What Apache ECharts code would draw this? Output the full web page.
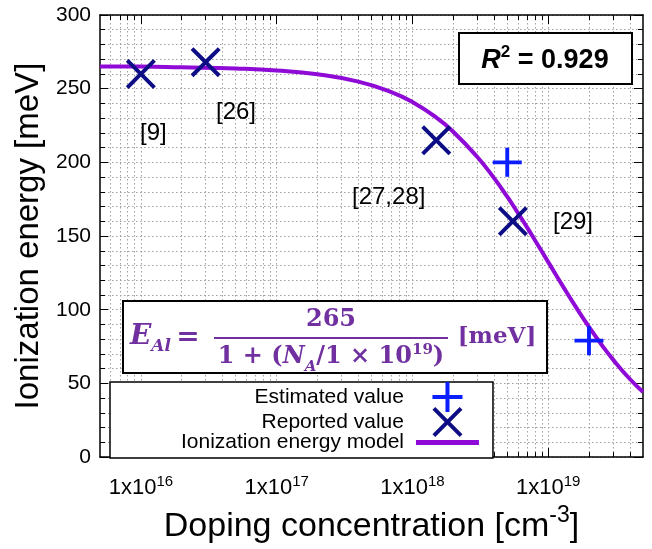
<!DOCTYPE html>
<html>
<head>
<meta charset="utf-8">
<script src="https://cdn.jsdelivr.net/npm/echarts@6/dist/echarts.min.js"></script>
<style>html,body{margin:0;padding:0;background:#fff}#c{width:652px;height:549px}</style>
</head>
<body>
<div id="c"></div>
<script>
// ---- data ----
const curveN = [5e15, 1e16, 2e16, 5e16, 1e17, 2e17, 4e17, 7e17, 1e18, 1.5e18, 2e18, 3e18, 4e18, 5e18, 6e18, 7e18, 8e18, 1e19, 1.3e19, 1.6e19, 2e19, 2.5e19, 3e19, 4e19, 5e19];
const curveE = [265, 265, 264.5, 263.7, 262.4, 259.8, 254.8, 247.7, 240.9, 230.4, 220.8, 203.8, 189.3, 176.7, 165.6, 155.9, 147.2, 132.5, 115.2, 101.9, 88.3, 75.7, 66.3, 53, 44.2];
const reportedN = [1e16, 3e16, 1.5e18, 5.5e18];
const reportedE = [260, 268, 215, 160];
const estimatedN = [5e18, 2e19];
const estimatedE = [200, 79];
const refLabels = ['[9]', '[26]', '[27,28]', '[29]'];
const seriesNames = ['Estimated value', 'Reported value', 'Ionization energy model'];
const xMajorTicks = [1e16, 1e17, 1e18, 1e19];
const xMin = 5e15, xMax = 5e19;
const yMin = 0, yMax = 300, yStep = 50;

const xMinorTicks = [];
for (let d = 15; d <= 19; d++) {
  for (let k = 2; k <= 9; k++) {
    const v = k * Math.pow(10, d);
    if (v > xMin && v < xMax) xMinorTicks.push(v);
  }
}

const FONT = 'Liberation Sans, Arial, sans-serif';
const SERIF = 'DejaVu Serif, serif';
const PURPLE_TXT = '#7030A0';
const CURVE = '#8F0AD6';
const NAVY = '#0D0D85';
const BLUE = '#0A1EFF';
const GRIDLINE = { show: true, lineStyle: { color: '#a0a0a0', type: [1.5, 2.5], width: 1 } };

const PLUS = 'path://M13,0L17,0L17,13L30,13L30,17L17,17L17,30L13,30L13,17L0,17L0,13L13,13Z';
const CROSS = 'path://M0,2.8L2.8,0L15,12.2L27.2,0L30,2.8L17.8,15L30,27.2L27.2,30L15,17.8L2.8,30L0,27.2L12.2,15Z';
const LINEICON = 'path://M0,0L63,0L63,5L0,5Z';

function xAxisBase(pos) {
  return {
    type: 'log', logBase: 10, min: xMin, max: xMax, position: pos, gridIndex: 0,
    axisLine: { show: false, onZero: false },
    axisLabel: { show: false }, splitLine: { show: false },
    axisTick: { show: false }
  };
}

const xAxes = [
  Object.assign(xAxisBase('bottom'), {
    axisLine: { show: true, onZero: false, lineStyle: { color: '#000', width: 1.5 } },
    axisTick: { show: true, inside: true, length: 9, customValues: xMajorTicks, lineStyle: { color: '#000', width: 1 } },
    axisLabel: {
      show: true, customValues: xMajorTicks, margin: 17, color: '#000',
      formatter: function (v) { return '{b|1x10}{s|' + Math.round(Math.log10(v)) + '}'; },
      rich: {
        b: { fontSize: 22, fontFamily: FONT, color: '#000', lineHeight: 25, verticalAlign: 'bottom' },
        s: { fontSize: 15, fontFamily: FONT, color: '#000', lineHeight: 15, verticalAlign: 'top' }
      }
    },
    splitLine: GRIDLINE,
    name: '{m|Doping concentration [cm}{s|-3}{m|]}',
    nameLocation: 'middle', nameGap: 40,
    nameTextStyle: {
      rich: {
        m: { fontSize: 34, fontFamily: FONT, color: '#000', lineHeight: 40, verticalAlign: 'bottom' },
        s: { fontSize: 23, fontFamily: FONT, color: '#000', lineHeight: 23, verticalAlign: 'top' }
      }
    }
  }),
  Object.assign(xAxisBase('bottom'), {
    axisTick: { show: true, inside: true, length: 5, customValues: xMinorTicks, lineStyle: { color: '#000', width: 1 } },
    splitLine: GRIDLINE
  }),
  Object.assign(xAxisBase('top'), {
    axisLine: { show: true, onZero: false, lineStyle: { color: '#000', width: 1.5 } },
    axisTick: { show: true, inside: true, length: 9, customValues: xMajorTicks, lineStyle: { color: '#000', width: 1 } }
  }),
  Object.assign(xAxisBase('top'), {
    axisTick: { show: true, inside: true, length: 5, customValues: xMinorTicks, lineStyle: { color: '#000', width: 1 } }
  })
];

const yAxes = [
  {
    type: 'value', min: yMin, max: yMax, interval: yStep, position: 'left',
    axisLine: { show: true, onZero: false, lineStyle: { color: '#000', width: 1.5 } },
    axisTick: { show: true, inside: true, length: 8, lineStyle: { color: '#000', width: 1 } },
    minorTick: { show: true, splitNumber: 5, length: 5, lineStyle: { color: '#000', width: 1 } },
    axisLabel: { fontSize: 21, fontFamily: FONT, color: '#000', margin: 9 },
    splitLine: GRIDLINE,
    minorSplitLine: GRIDLINE,
    name: 'Ionization energy [meV]', nameLocation: 'middle', nameGap: 48, nameRotate: 90,
    nameTextStyle: { fontSize: 33, fontFamily: FONT, color: '#000' }
  },
  {
    type: 'value', min: yMin, max: yMax, interval: yStep, position: 'right',
    axisLine: { show: true, onZero: false, lineStyle: { color: '#000', width: 1.5 } },
    axisTick: { show: true, inside: true, length: 9, lineStyle: { color: '#000', width: 1 } },
    minorTick: { show: true, splitNumber: 5, length: 5, lineStyle: { color: '#000', width: 1 } },
    axisLabel: { show: false }, splitLine: { show: false }
  }
];

const option = {
  animation: false,
  backgroundColor: '#fff',
  grid: { left: 100, right: 9, top: 15, bottom: 82 },
  xAxis: xAxes,
  yAxis: yAxes,
  legend: {
    orient: 'vertical', align: 'right', left: 110, top: 382,
    itemWidth: 63, itemHeight: 30, itemGap: -5,
    padding: [0, 14, 5, 71],
    backgroundColor: '#fff', borderColor: '#000', borderWidth: 1.5,
    textStyle: { fontSize: 21, fontFamily: FONT, color: '#000', padding: [0, 7, 0, 0] },
    data: [
      { name: seriesNames[0], icon: PLUS },
      { name: seriesNames[1], icon: CROSS },
      { name: seriesNames[2], icon: LINEICON }
    ]
  },
  series: [
    {
      name: seriesNames[2], type: 'line', xAxisIndex: 0, yAxisIndex: 0,
      data: curveN.map((n, i) => [n, curveE[i]]),
      symbol: 'none', smooth: true, z: 3,
      lineStyle: { color: CURVE, width: 4 }, itemStyle: { color: CURVE }
    },
    {
      name: seriesNames[1], type: 'scatter', xAxisIndex: 0, yAxisIndex: 0,
      data: reportedN.map((n, i) => [n, reportedE[i]]),
      symbol: CROSS, symbolSize: 30, z: 4,
      itemStyle: { color: NAVY, opacity: 1 }
    },
    {
      name: seriesNames[0], type: 'scatter', xAxisIndex: 0, yAxisIndex: 0,
      data: estimatedN.map((n, i) => [n, estimatedE[i]]),
      symbol: PLUS, symbolSize: 29, z: 4,
      itemStyle: { color: BLUE, opacity: 1 }
    }
  ],
  graphic: [
    // reference labels
    { type: 'text', left: 140, top: 121, z: 10, style: { text: refLabels[0], fontSize: 24, fontFamily: FONT, fill: '#000' } },
    { type: 'text', left: 216, top: 100, z: 10, style: { text: refLabels[1], fontSize: 24, fontFamily: FONT, fill: '#000' } },
    { type: 'text', left: 352, top: 185, z: 10, style: { text: refLabels[2], fontSize: 24, fontFamily: FONT, fill: '#000' } },
    { type: 'text', left: 553, top: 210, z: 10, style: { text: refLabels[3], fontSize: 24, fontFamily: FONT, fill: '#000' } },
    // R^2 box
    { type: 'rect', z: 10, shape: { x: 459, y: 33, width: 173, height: 51 }, style: { fill: '#fff', stroke: '#000', lineWidth: 2 } },
    {
      type: 'text', z: 11, x: 545, y: 59,
      style: {
        text: '{r|R}{s|2}{b| = 0.929}', align: 'center', verticalAlign: 'middle',
        rich: {
          r: { fontSize: 27, fontWeight: 'bold', fontStyle: 'italic', fontFamily: FONT, fill: '#000', lineHeight: 30, verticalAlign: 'bottom' },
          s: { fontSize: 17, fontWeight: 'bold', fontFamily: FONT, fill: '#000', lineHeight: 17, verticalAlign: 'top' },
          b: { fontSize: 27, fontWeight: 'bold', fontFamily: FONT, fill: '#000', lineHeight: 30, verticalAlign: 'bottom' }
        }
      }
    },
    // Equation box
    { type: 'rect', z: 10, shape: { x: 123, y: 301, width: 424, height: 72 }, style: { fill: '#fff', stroke: '#000', lineWidth: 2 } },
    {
      type: 'text', z: 11, x: 130, y: 338,
      style: {
        text: '{e|E}{sub|Al}', align: 'left', verticalAlign: 'middle',
        rich: {
          e: { fontSize: 28, fontWeight: 'bold', fontStyle: 'italic', fontFamily: SERIF, fill: PURPLE_TXT, lineHeight: 30, verticalAlign: 'top' },
          sub: { fontSize: 17, fontWeight: 'bold', fontStyle: 'italic', fontFamily: SERIF, fill: PURPLE_TXT, lineHeight: 17, verticalAlign: 'bottom', padding: [0, 0, -2, 0] }
        }
      }
    },
    { type: 'text', z: 11, x: 188, y: 338, style: { text: '=', align: 'center', verticalAlign: 'middle', fontSize: 28, fontWeight: 'bold', fontFamily: SERIF, fill: PURPLE_TXT } },
    { type: 'text', z: 11, x: 331, y: 320, style: { text: '265', align: 'center', verticalAlign: 'middle', fontSize: 24, fontWeight: 'bold', fontFamily: SERIF, fill: PURPLE_TXT } },
    { type: 'line', z: 11, shape: { x1: 214, y1: 338, x2: 448, y2: 338 }, style: { stroke: PURPLE_TXT, lineWidth: 2 } },
    {
      type: 'text', z: 11, x: 331, y: 357,
      style: {
        text: '{n|1 + (}{i|N}{sub|A}{n|/1 × 10}{sup|19}{n|)}', align: 'center', verticalAlign: 'middle',
        rich: {
          n: { fontSize: 24, fontWeight: 'bold', fontFamily: SERIF, fill: PURPLE_TXT, lineHeight: 28 },
          i: { fontSize: 24, fontWeight: 'bold', fontStyle: 'italic', fontFamily: SERIF, fill: PURPLE_TXT, lineHeight: 28 },
          sub: { fontSize: 15, fontWeight: 'bold', fontStyle: 'italic', fontFamily: SERIF, fill: PURPLE_TXT, lineHeight: 15, verticalAlign: 'bottom', padding: [0, 0, -4, 0] },
          sup: { fontSize: 15, fontWeight: 'bold', fontFamily: SERIF, fill: PURPLE_TXT, lineHeight: 15, verticalAlign: 'top' }
        }
      }
    },
    { type: 'text', z: 11, x: 497, y: 337, style: { text: '[meV]', align: 'center', verticalAlign: 'middle', fontSize: 23, fontWeight: 'bold', fontFamily: SERIF, fill: PURPLE_TXT } }
  ]
};

const chart = echarts.init(document.getElementById('c'), null, { renderer: 'canvas' });
chart.setOption(option);
</script>
</body>
</html>
